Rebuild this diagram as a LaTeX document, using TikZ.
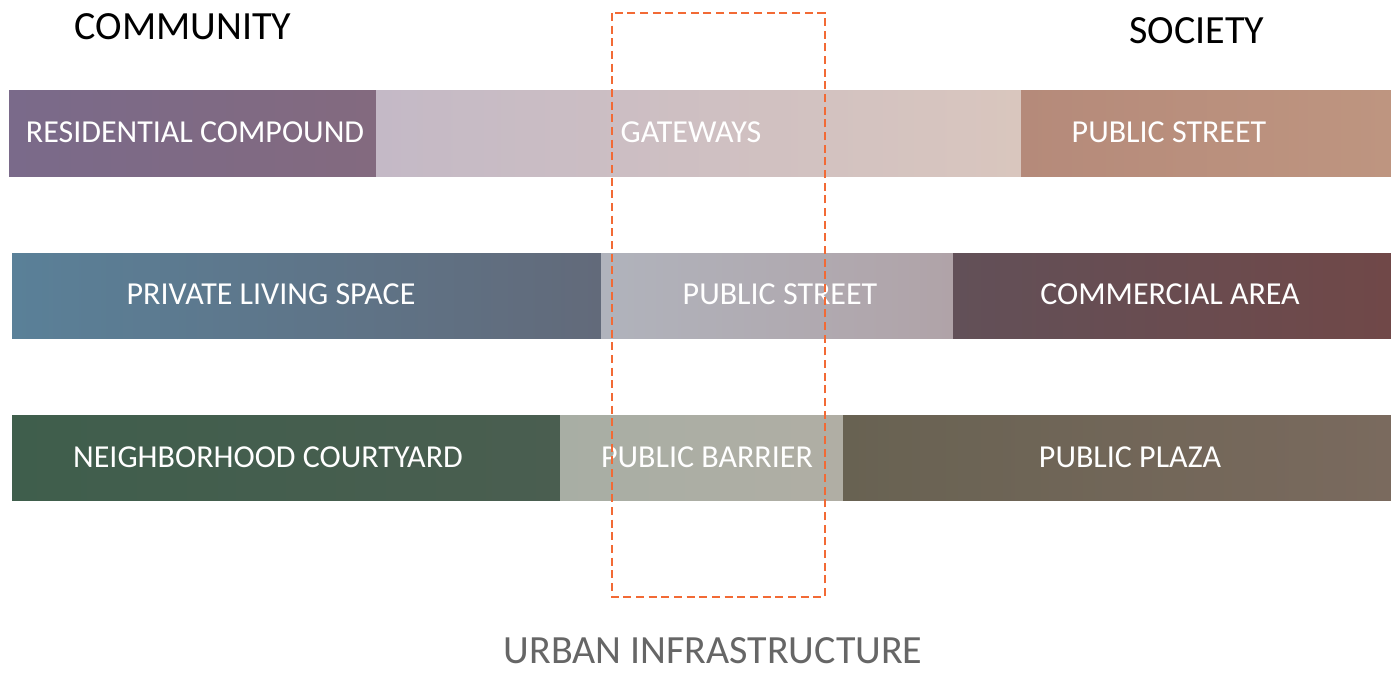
\documentclass[tikz,border=0pt]{standalone}
\usepackage{fontspec}
\setmainfont{Carlito}
\usetikzlibrary{positioning}

\definecolor{dashorange}{HTML}{F26A35}
\definecolor{headgray}{HTML}{666666}

\tikzset{
  barlabel/.style={text=white, font=\fontsize{24}{28}\selectfont, inner sep=0pt},
  headlabel/.style={text=black, font=\fontsize{30}{34}\selectfont, inner sep=0pt}
}

\begin{document}
\begin{tikzpicture}[x=0.75pt, y=-0.75pt]
        \useasboundingbox[fill=white] (0,0) rectangle (1391,674);

        % row 1
        \shade[left color={rgb,255:red,122;green,106;blue,138}, right color={rgb,255:red,131;green,106;blue,127}] (9,90) rectangle (376,176);
        \shade[left color={rgb,255:red,196;green,185;blue,198}, right color={rgb,255:red,217;green,198;blue,190}] (376,90) rectangle (1021,176);
        \shade[left color={rgb,255:red,181;green,138;blue,122}, right color={rgb,255:red,190;green,149;blue,128}] (1021,90) rectangle (1391,176);
        % row 2
        \shade[left color={rgb,255:red,90;green,128;blue,152}, right color={rgb,255:red,98;green,106;blue,122}] (12,253) rectangle (601,338);
        \shade[left color={rgb,255:red,176;green,179;blue,188}, right color={rgb,255:red,176;green,163;blue,168}] (601,253) rectangle (953,338);
        \shade[left color={rgb,255:red,98;green,80;blue,88}, right color={rgb,255:red,112;green,72;blue,72}] (953,253) rectangle (1391,338);
        % row 3
        \shade[left color={rgb,255:red,63;green,94;blue,76}, right color={rgb,255:red,74;green,94;blue,80}] (12,415) rectangle (560,500);
        \shade[left color={rgb,255:red,168;green,174;blue,164}, right color={rgb,255:red,176;green,174;blue,164}] (560,415) rectangle (843,500);
        \shade[left color={rgb,255:red,104;green,98;blue,82}, right color={rgb,255:red,122;green,106;blue,94}] (843,415) rectangle (1391,500);

        \node[headlabel] (community) at (183,27) {COMMUNITY};
        \node[headlabel] (society) at (1197,31) {SOCIETY};

        \node[barlabel] (rescomp) at (195,132) {RESIDENTIAL COMPOUND};
        \node[barlabel] (gateways) at (691,132) {GATEWAYS};
        \node[barlabel] (streetone) at (1169,132) {PUBLIC STREET};

        \node[barlabel] (living) at (271,294) {PRIVATE LIVING SPACE};
        \node[barlabel] (streettwo) at (780,294) {PUBLIC STREET};
        \node[barlabel] (commercial) at (1170,294) {COMMERCIAL AREA};

        \node[barlabel] (courtyard) at (268,457) {NEIGHBORHOOD COURTYARD};
        \node[barlabel] (barrier) at (707,457) {PUBLIC BARRIER};
        \node[barlabel] (plaza) at (1130,457) {PUBLIC PLAZA};

        \draw[dashorange, line width=2.2pt, dash pattern=on 6pt off 3.5pt] (612,13) rectangle (825,597);

        \node[headlabel, text=headgray, anchor=base] (infra) at (713,663) {URBAN INFRASTRUCTURE};
\end{tikzpicture}
\end{document}
